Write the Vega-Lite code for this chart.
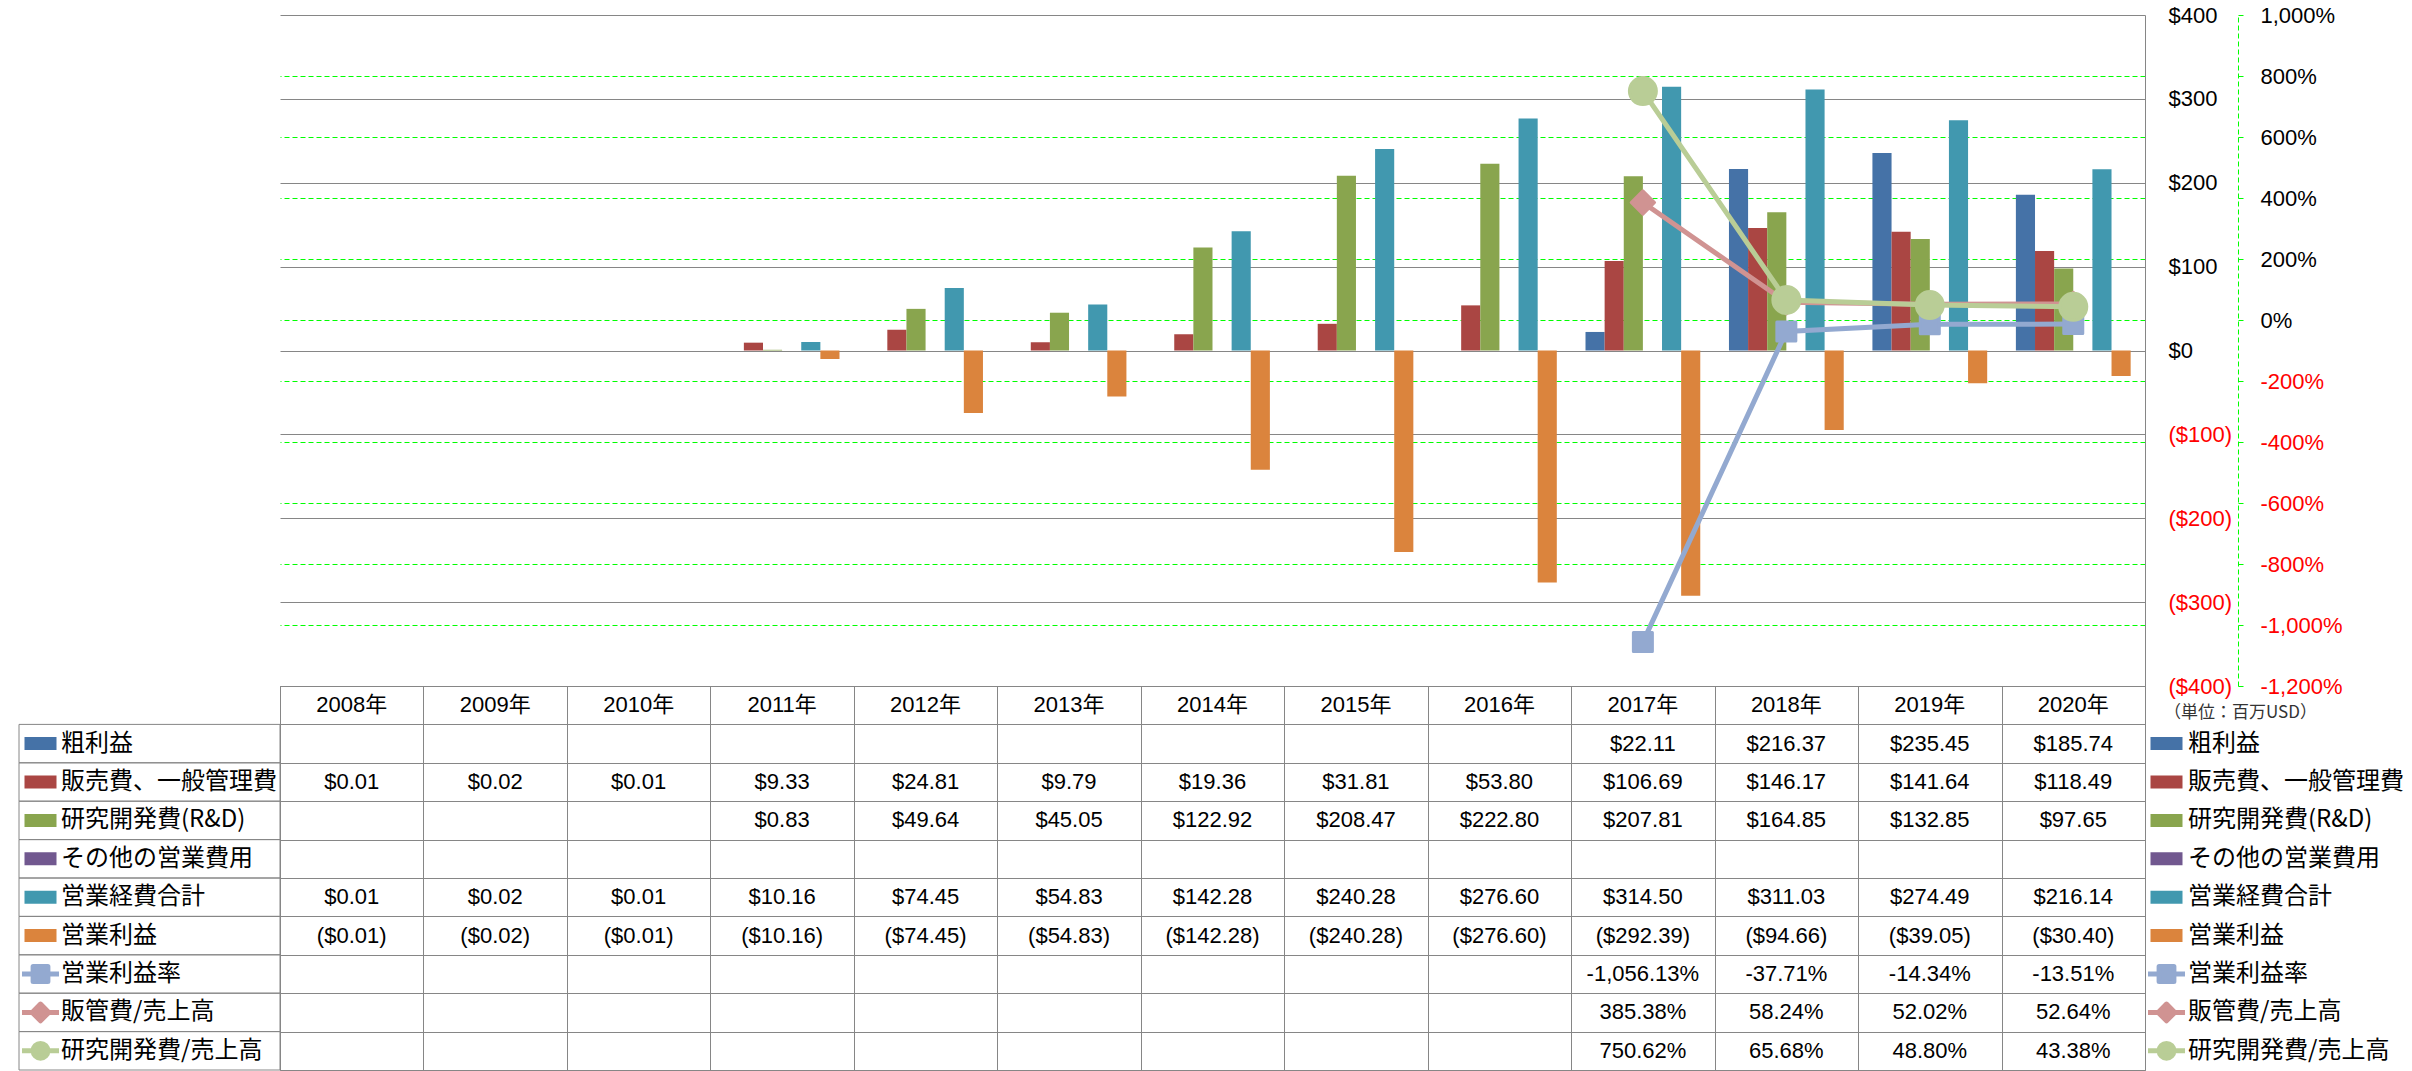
{
  "$schema": "https://vega.github.io/schema/vega-lite/v6.json",
  "background": "white",
  "padding": {"left": 18, "top": 4, "right": 0, "bottom": 0},
  "autosize": {"type": "pad"},
  "columns": 3,
  "spacing": 0,
  "bounds": "flush",
  "config": {
    "view": {"stroke": null},
    "font": "Liberation Sans",
    "locale": {"number": {"decimal": ".", "thousands": ",", "grouping": [3], "currency": ["$", ""], "minus": "-"}},
    "text": {"font": "Liberation Sans, Noto Sans CJK JP", "fontSize": 22, "color": "#000000"},
    "axis": {"labelFont": "Liberation Sans", "labelFontSize": 22}
  },
  "resolve": {"scale": {"color": "independent", "shape": "independent", "size": "independent", "stroke": "independent"}},
  "datasets": {
    "main": [
      {"year": "2017年", "s": "粗利益", "v": 22.11},
      {"year": "2018年", "s": "粗利益", "v": 216.37},
      {"year": "2019年", "s": "粗利益", "v": 235.45},
      {"year": "2020年", "s": "粗利益", "v": 185.74},
      {"year": "2008年", "s": "販売費、一般管理費", "v": 0.01},
      {"year": "2009年", "s": "販売費、一般管理費", "v": 0.02},
      {"year": "2010年", "s": "販売費、一般管理費", "v": 0.01},
      {"year": "2011年", "s": "販売費、一般管理費", "v": 9.33},
      {"year": "2012年", "s": "販売費、一般管理費", "v": 24.81},
      {"year": "2013年", "s": "販売費、一般管理費", "v": 9.79},
      {"year": "2014年", "s": "販売費、一般管理費", "v": 19.36},
      {"year": "2015年", "s": "販売費、一般管理費", "v": 31.81},
      {"year": "2016年", "s": "販売費、一般管理費", "v": 53.80},
      {"year": "2017年", "s": "販売費、一般管理費", "v": 106.69},
      {"year": "2018年", "s": "販売費、一般管理費", "v": 146.17},
      {"year": "2019年", "s": "販売費、一般管理費", "v": 141.64},
      {"year": "2020年", "s": "販売費、一般管理費", "v": 118.49},
      {"year": "2011年", "s": "研究開発費(R&D)", "v": 0.83},
      {"year": "2012年", "s": "研究開発費(R&D)", "v": 49.64},
      {"year": "2013年", "s": "研究開発費(R&D)", "v": 45.05},
      {"year": "2014年", "s": "研究開発費(R&D)", "v": 122.92},
      {"year": "2015年", "s": "研究開発費(R&D)", "v": 208.47},
      {"year": "2016年", "s": "研究開発費(R&D)", "v": 222.80},
      {"year": "2017年", "s": "研究開発費(R&D)", "v": 207.81},
      {"year": "2018年", "s": "研究開発費(R&D)", "v": 164.85},
      {"year": "2019年", "s": "研究開発費(R&D)", "v": 132.85},
      {"year": "2020年", "s": "研究開発費(R&D)", "v": 97.65},
      {"year": "2008年", "s": "営業経費合計", "v": 0.01},
      {"year": "2009年", "s": "営業経費合計", "v": 0.02},
      {"year": "2010年", "s": "営業経費合計", "v": 0.01},
      {"year": "2011年", "s": "営業経費合計", "v": 10.16},
      {"year": "2012年", "s": "営業経費合計", "v": 74.45},
      {"year": "2013年", "s": "営業経費合計", "v": 54.83},
      {"year": "2014年", "s": "営業経費合計", "v": 142.28},
      {"year": "2015年", "s": "営業経費合計", "v": 240.28},
      {"year": "2016年", "s": "営業経費合計", "v": 276.60},
      {"year": "2017年", "s": "営業経費合計", "v": 314.50},
      {"year": "2018年", "s": "営業経費合計", "v": 311.03},
      {"year": "2019年", "s": "営業経費合計", "v": 274.49},
      {"year": "2020年", "s": "営業経費合計", "v": 216.14},
      {"year": "2008年", "s": "営業利益", "v": -0.01},
      {"year": "2009年", "s": "営業利益", "v": -0.02},
      {"year": "2010年", "s": "営業利益", "v": -0.01},
      {"year": "2011年", "s": "営業利益", "v": -10.16},
      {"year": "2012年", "s": "営業利益", "v": -74.45},
      {"year": "2013年", "s": "営業利益", "v": -54.83},
      {"year": "2014年", "s": "営業利益", "v": -142.28},
      {"year": "2015年", "s": "営業利益", "v": -240.28},
      {"year": "2016年", "s": "営業利益", "v": -276.60},
      {"year": "2017年", "s": "営業利益", "v": -292.39},
      {"year": "2018年", "s": "営業利益", "v": -94.66},
      {"year": "2019年", "s": "営業利益", "v": -39.05},
      {"year": "2020年", "s": "営業利益", "v": -30.40},
      {"year": "2017年", "s": "営業利益率", "v": -10.5613},
      {"year": "2018年", "s": "営業利益率", "v": -0.3771},
      {"year": "2019年", "s": "営業利益率", "v": -0.1434},
      {"year": "2020年", "s": "営業利益率", "v": -0.1351},
      {"year": "2017年", "s": "販管費/売上高", "v": 3.8538},
      {"year": "2018年", "s": "販管費/売上高", "v": 0.5824},
      {"year": "2019年", "s": "販管費/売上高", "v": 0.5202},
      {"year": "2020年", "s": "販管費/売上高", "v": 0.5264},
      {"year": "2017年", "s": "研究開発費/売上高", "v": 7.5062},
      {"year": "2018年", "s": "研究開発費/売上高", "v": 0.6568},
      {"year": "2019年", "s": "研究開発費/売上高", "v": 0.4880},
      {"year": "2020年", "s": "研究開発費/売上高", "v": 0.4338}
    ],
    "series": [
      {"s": "粗利益", "k": "bar"},
      {"s": "販売費、一般管理費", "k": "bar"},
      {"s": "研究開発費(R&D)", "k": "bar"},
      {"s": "その他の営業費用", "k": "bar"},
      {"s": "営業経費合計", "k": "bar"},
      {"s": "営業利益", "k": "bar"},
      {"s": "営業利益率", "k": "line"},
      {"s": "販管費/売上高", "k": "line"},
      {"s": "研究開発費/売上高", "k": "line"}
    ]
  },
  "concat": [
    {"width": 261, "height": 671, "data": {"values": []}, "mark": "text"},
    {
      "width": 1865,
      "height": 671,
      "data": {"name": "main"},
      "layer": [
        {
          "transform": [{"filter": {"field": "s", "oneOf": ["粗利益", "販売費、一般管理費", "研究開発費(R&D)", "その他の営業費用", "営業経費合計", "営業利益"]}}],
          "mark": {"type": "bar"},
          "encoding": {
            "x": {"field": "year", "type": "nominal", "scale": {"domain": ["2008年","2009年","2010年","2011年","2012年","2013年","2014年","2015年","2016年","2017年","2018年","2019年","2020年"], "paddingInner": 0, "paddingOuter": 0}, "axis": null},
            "xOffset": {"field": "s", "type": "nominal", "scale": {"domain": ["粗利益", "販売費、一般管理費", "研究開発費(R&D)", "その他の営業費用", "営業経費合計", "営業利益"], "paddingInner": 0, "paddingOuter": 0.75}},
            "y": {
              "field": "v", "type": "quantitative",
              "scale": {"domain": [-400, 400], "nice": false},
              "axis": {
                "orient": "right", "title": null,
                "values": [-400, -300, -200, -100, 0, 100, 200, 300, 400],
                "format": "($,.0f",
                "grid": true, "gridColor": "#868686", "gridWidth": 1,
                "domain": true, "domainColor": "#868686",
                "ticks": false, "labelPadding": 23,
                "labelFontSize": 22,
                "labelColor": {"condition": {"test": "datum.value < 0", "value": "#FF0000"}, "value": "#000000"}
              }
            },
            "color": {"field": "s", "type": "nominal", "legend": null,
              "scale": {"domain": ["粗利益", "販売費、一般管理費", "研究開発費(R&D)", "その他の営業費用", "営業経費合計", "営業利益", "営業利益率", "販管費/売上高", "研究開発費/売上高"],
                        "range": ["#4572A7", "#AA4643", "#89A54E", "#71588F", "#4198AF", "#DB843D", "#93A9D0", "#D09392", "#B9CD96"]}}
          }
        },
        {
          "transform": [{"filter": {"field": "s", "oneOf": ["営業利益率", "販管費/売上高", "研究開発費/売上高"]}}],
          "encoding": {
            "x": {"field": "year", "type": "nominal", "axis": null},
            "y": {
              "field": "v", "type": "quantitative",
              "scale": {"domain": [-12, 10], "nice": false},
              "axis": {
                "orient": "right", "title": null, "offset": 93,
                "values": [-12, -10, -8, -6, -4, -2, 0, 2, 4, 6, 8, 10],
                "format": ",.0%",
                "grid": true, "gridColor": "#00FF00", "gridDash": [5, 3], "gridWidth": 1,
                "gridOpacity": {"condition": {"test": "datum.value >= 10 || datum.value <= -12", "value": 0}, "value": 1},
                "domain": true, "domainColor": "#00FF00", "domainDash": [5, 3],
                "ticks": true, "tickColor": "#00FF00", "tickSize": 5,
                "labelPadding": 17, "labelFontSize": 22,
                "labelColor": {"condition": {"test": "datum.value < 0", "value": "#FF0000"}, "value": "#000000"}
              }
            },
            "color": {"field": "s", "type": "nominal", "legend": null,
              "scale": {"domain": ["粗利益", "販売費、一般管理費", "研究開発費(R&D)", "その他の営業費用", "営業経費合計", "営業利益", "営業利益率", "販管費/売上高", "研究開発費/売上高"],
                        "range": ["#4572A7", "#AA4643", "#89A54E", "#71588F", "#4198AF", "#DB843D", "#93A9D0", "#D09392", "#B9CD96"]}}
          },
          "layer": [
            {"mark": {"type": "line", "strokeWidth": 5}},
            {
              "mark": {"type": "point", "filled": true, "opacity": 1, "strokeWidth": 3, "strokeJoin": "round"},
              "encoding": {
                "shape": {"field": "s", "type": "nominal", "legend": null, "scale": {"domain": ["営業利益率", "販管費/売上高", "研究開発費/売上高"], "range": ["square", "diamond", "circle"]}},
                "size": {"field": "s", "type": "ordinal", "legend": null, "scale": {"domain": ["営業利益率", "販管費/売上高", "研究開発費/売上高"], "range": [361, 729, 400]}},
                "stroke": {"field": "s", "type": "nominal", "legend": null, "scale": {"domain": ["営業利益率", "販管費/売上高", "研究開発費/売上高"], "range": ["#93A9D0", "#D09392", "#B9CD96"]}}
              }
            }
          ]
        }
      ],
      "resolve": {"scale": {"y": "independent"}}
    },
    {"width": 266, "height": 671, "data": {"values": []}, "mark": "text"},
    {
      "width": 261,
      "height": 384,
      "data": {"name": "series"},
      "encoding": {
        "y": {"field": "s", "type": "nominal", "axis": null,
          "scale": {"domain": ["hdr", "粗利益", "販売費、一般管理費", "研究開発費(R&D)", "その他の営業費用", "営業経費合計", "営業利益", "営業利益率", "販管費/売上高", "研究開発費/売上高"], "paddingInner": 0, "paddingOuter": 0}}
      },
      "layer": [
        {"mark": {"type": "rect", "fill": "#ffffff", "fillOpacity": 0, "stroke": "#868686", "strokeWidth": 1}},
        {
          "transform": [{"filter": "datum.k === 'bar'"}],
          "mark": {"type": "point", "filled": true, "opacity": 1, "size": 1369, "strokeWidth": 0},
          "encoding": {
            "x": {"datum": "sw", "type": "nominal", "axis": null, "scale": {"type": "point", "domain": ["sw", "tx"], "range": [21.5, 42], "padding": 0}},
            "shape": {"field": "s", "type": "nominal", "legend": null,
              "scale": {"domain": ["粗利益", "販売費、一般管理費", "研究開発費(R&D)", "その他の営業費用", "営業経費合計", "営業利益", "営業利益率", "販管費/売上高", "研究開発費/売上高"],
                "range": ["M-0.865,-0.35L0.865,-0.35L0.865,0.35L-0.865,0.35Z", "M-0.865,-0.35L0.865,-0.35L0.865,0.35L-0.865,0.35Z", "M-0.865,-0.35L0.865,-0.35L0.865,0.35L-0.865,0.35Z", "M-0.865,-0.35L0.865,-0.35L0.865,0.35L-0.865,0.35Z", "M-0.865,-0.35L0.865,-0.35L0.865,0.35L-0.865,0.35Z", "M-0.865,-0.35L0.865,-0.35L0.865,0.35L-0.865,0.35Z", "M-1,0L1,0M-0.4,-0.4L0.4,-0.4L0.4,0.4L-0.4,0.4Z", "M-1,0L1,0M0,-0.45L0.45,0L0,0.45L-0.45,0Z", "M-1,0L1,0M-0.4,0A0.4,0.4,0,1,0,0.4,0A0.4,0.4,0,1,0,-0.4,0Z"]}},
            "color": {"field": "s", "type": "nominal", "legend": null,
              "scale": {"domain": ["粗利益", "販売費、一般管理費", "研究開発費(R&D)", "その他の営業費用", "営業経費合計", "営業利益", "営業利益率", "販管費/売上高", "研究開発費/売上高"],
                        "range": ["#4572A7", "#AA4643", "#89A54E", "#71588F", "#4198AF", "#DB843D", "#93A9D0", "#D09392", "#B9CD96"]}}
          }
        },
        {
          "transform": [{"filter": "datum.k === 'line'"}],
          "mark": {"type": "point", "filled": true, "opacity": 1, "size": 1369, "strokeWidth": 5, "strokeJoin": "round"},
          "encoding": {
            "x": {"datum": "sw", "type": "nominal", "axis": null, "scale": {"type": "point", "domain": ["sw", "tx"], "range": [21.5, 42], "padding": 0}},
            "shape": {"field": "s", "type": "nominal", "legend": null,
              "scale": {"domain": ["粗利益", "販売費、一般管理費", "研究開発費(R&D)", "その他の営業費用", "営業経費合計", "営業利益", "営業利益率", "販管費/売上高", "研究開発費/売上高"],
                "range": ["M-0.865,-0.35L0.865,-0.35L0.865,0.35L-0.865,0.35Z", "M-0.865,-0.35L0.865,-0.35L0.865,0.35L-0.865,0.35Z", "M-0.865,-0.35L0.865,-0.35L0.865,0.35L-0.865,0.35Z", "M-0.865,-0.35L0.865,-0.35L0.865,0.35L-0.865,0.35Z", "M-0.865,-0.35L0.865,-0.35L0.865,0.35L-0.865,0.35Z", "M-0.865,-0.35L0.865,-0.35L0.865,0.35L-0.865,0.35Z", "M-1,0L1,0M-0.4,-0.4L0.4,-0.4L0.4,0.4L-0.4,0.4Z", "M-1,0L1,0M0,-0.45L0.45,0L0,0.45L-0.45,0Z", "M-1,0L1,0M-0.4,0A0.4,0.4,0,1,0,0.4,0A0.4,0.4,0,1,0,-0.4,0Z"]}},
            "color": {"field": "s", "type": "nominal", "legend": null,
              "scale": {"domain": ["粗利益", "販売費、一般管理費", "研究開発費(R&D)", "その他の営業費用", "営業経費合計", "営業利益", "営業利益率", "販管費/売上高", "研究開発費/売上高"],
                        "range": ["#4572A7", "#AA4643", "#89A54E", "#71588F", "#4198AF", "#DB843D", "#93A9D0", "#D09392", "#B9CD96"]}},
            "stroke": {"field": "s", "type": "nominal", "legend": null,
              "scale": {"domain": ["粗利益", "販売費、一般管理費", "研究開発費(R&D)", "その他の営業費用", "営業経費合計", "営業利益", "営業利益率", "販管費/売上高", "研究開発費/売上高"],
                        "range": ["#4572A7", "#AA4643", "#89A54E", "#71588F", "#4198AF", "#DB843D", "#93A9D0", "#D09392", "#B9CD96"]}}
          }
        },
        {
          "mark": {"type": "text", "align": "left", "baseline": "middle", "fontSize": 24, "font": "Noto Sans CJK JP"},
          "encoding": {
            "x": {"datum": "tx", "type": "nominal", "axis": null, "scale": {"type": "point", "domain": ["sw", "tx"], "range": [21.5, 42], "padding": 0}},
            "text": {"field": "s"}
          }
        }
      ],
      "resolve": {"scale": {"x": "independent"}}
    },
    {
      "width": 1865,
      "height": 384,
      "view": {"stroke": "#868686"},
      "data": {"name": "main"},
      "encoding": {
        "x": {"field": "year", "type": "nominal",
          "scale": {"domain": ["2008年","2009年","2010年","2011年","2012年","2013年","2014年","2015年","2016年","2017年","2018年","2019年","2020年"], "paddingInner": 0, "paddingOuter": 0},
          "axis": {"grid": true, "tickBand": "extent", "labels": false, "ticks": false, "domain": false, "gridColor": "#868686", "title": null}},
        "y": {"field": "s", "type": "nominal",
          "scale": {"domain": ["hdr", "粗利益", "販売費、一般管理費", "研究開発費(R&D)", "その他の営業費用", "営業経費合計", "営業利益", "営業利益率", "販管費/売上高", "研究開発費/売上高"], "paddingInner": 0, "paddingOuter": 0},
          "axis": {"grid": true, "tickBand": "extent", "labels": false, "ticks": false, "domain": false, "gridColor": "#868686", "title": null}}
      },
      "layer": [
        {
          "transform": [{"filter": "datum.s === '営業利益'"}],
          "mark": {"type": "text", "fontSize": 22},
          "encoding": {"y": {"datum": "hdr", "type": "nominal"}, "text": {"field": "year"}}
        },
        {
          "transform": [{"filter": {"field": "s", "oneOf": ["粗利益", "販売費、一般管理費", "研究開発費(R&D)", "その他の営業費用", "営業経費合計", "営業利益"]}}],
          "mark": {"type": "text", "fontSize": 22},
          "encoding": {"text": {"field": "v", "type": "quantitative", "format": "($,.2f"}}
        },
        {
          "transform": [{"filter": {"field": "s", "oneOf": ["営業利益率", "販管費/売上高", "研究開発費/売上高"]}}],
          "mark": {"type": "text", "fontSize": 22},
          "encoding": {"text": {"field": "v", "type": "quantitative", "format": ",.2%"}}
        }
      ]
    },
    {
      "width": 266,
      "height": 384,
      "data": {"name": "series"},
      "encoding": {
        "y": {"field": "s", "type": "nominal", "axis": null,
          "scale": {"domain": ["hdr", "粗利益", "販売費、一般管理費", "研究開発費(R&D)", "その他の営業費用", "営業経費合計", "営業利益", "営業利益率", "販管費/売上高", "研究開発費/売上高"], "paddingInner": 0, "paddingOuter": 0}}
      },
      "layer": [
        {
          "transform": [{"filter": "datum.k === 'bar'"}],
          "mark": {"type": "point", "filled": true, "opacity": 1, "size": 1369, "strokeWidth": 0},
          "encoding": {
            "x": {"datum": "sw", "type": "nominal", "axis": null, "scale": {"type": "point", "domain": ["sw", "tx"], "range": [21.5, 43], "padding": 0}},
            "shape": {"field": "s", "type": "nominal", "legend": null,
              "scale": {"domain": ["粗利益", "販売費、一般管理費", "研究開発費(R&D)", "その他の営業費用", "営業経費合計", "営業利益", "営業利益率", "販管費/売上高", "研究開発費/売上高"],
                "range": ["M-0.865,-0.35L0.865,-0.35L0.865,0.35L-0.865,0.35Z", "M-0.865,-0.35L0.865,-0.35L0.865,0.35L-0.865,0.35Z", "M-0.865,-0.35L0.865,-0.35L0.865,0.35L-0.865,0.35Z", "M-0.865,-0.35L0.865,-0.35L0.865,0.35L-0.865,0.35Z", "M-0.865,-0.35L0.865,-0.35L0.865,0.35L-0.865,0.35Z", "M-0.865,-0.35L0.865,-0.35L0.865,0.35L-0.865,0.35Z", "M-1,0L1,0M-0.4,-0.4L0.4,-0.4L0.4,0.4L-0.4,0.4Z", "M-1,0L1,0M0,-0.45L0.45,0L0,0.45L-0.45,0Z", "M-1,0L1,0M-0.4,0A0.4,0.4,0,1,0,0.4,0A0.4,0.4,0,1,0,-0.4,0Z"]}},
            "color": {"field": "s", "type": "nominal", "legend": null,
              "scale": {"domain": ["粗利益", "販売費、一般管理費", "研究開発費(R&D)", "その他の営業費用", "営業経費合計", "営業利益", "営業利益率", "販管費/売上高", "研究開発費/売上高"],
                        "range": ["#4572A7", "#AA4643", "#89A54E", "#71588F", "#4198AF", "#DB843D", "#93A9D0", "#D09392", "#B9CD96"]}}
          }
        },
        {
          "transform": [{"filter": "datum.k === 'line'"}],
          "mark": {"type": "point", "filled": true, "opacity": 1, "size": 1369, "strokeWidth": 5, "strokeJoin": "round"},
          "encoding": {
            "x": {"datum": "sw", "type": "nominal", "axis": null, "scale": {"type": "point", "domain": ["sw", "tx"], "range": [21.5, 43], "padding": 0}},
            "shape": {"field": "s", "type": "nominal", "legend": null,
              "scale": {"domain": ["粗利益", "販売費、一般管理費", "研究開発費(R&D)", "その他の営業費用", "営業経費合計", "営業利益", "営業利益率", "販管費/売上高", "研究開発費/売上高"],
                "range": ["M-0.865,-0.35L0.865,-0.35L0.865,0.35L-0.865,0.35Z", "M-0.865,-0.35L0.865,-0.35L0.865,0.35L-0.865,0.35Z", "M-0.865,-0.35L0.865,-0.35L0.865,0.35L-0.865,0.35Z", "M-0.865,-0.35L0.865,-0.35L0.865,0.35L-0.865,0.35Z", "M-0.865,-0.35L0.865,-0.35L0.865,0.35L-0.865,0.35Z", "M-0.865,-0.35L0.865,-0.35L0.865,0.35L-0.865,0.35Z", "M-1,0L1,0M-0.4,-0.4L0.4,-0.4L0.4,0.4L-0.4,0.4Z", "M-1,0L1,0M0,-0.45L0.45,0L0,0.45L-0.45,0Z", "M-1,0L1,0M-0.4,0A0.4,0.4,0,1,0,0.4,0A0.4,0.4,0,1,0,-0.4,0Z"]}},
            "color": {"field": "s", "type": "nominal", "legend": null,
              "scale": {"domain": ["粗利益", "販売費、一般管理費", "研究開発費(R&D)", "その他の営業費用", "営業経費合計", "営業利益", "営業利益率", "販管費/売上高", "研究開発費/売上高"],
                        "range": ["#4572A7", "#AA4643", "#89A54E", "#71588F", "#4198AF", "#DB843D", "#93A9D0", "#D09392", "#B9CD96"]}},
            "stroke": {"field": "s", "type": "nominal", "legend": null,
              "scale": {"domain": ["粗利益", "販売費、一般管理費", "研究開発費(R&D)", "その他の営業費用", "営業経費合計", "営業利益", "営業利益率", "販管費/売上高", "研究開発費/売上高"],
                        "range": ["#4572A7", "#AA4643", "#89A54E", "#71588F", "#4198AF", "#DB843D", "#93A9D0", "#D09392", "#B9CD96"]}}
          }
        },
        {
          "mark": {"type": "text", "align": "left", "baseline": "middle", "fontSize": 24, "font": "Noto Sans CJK JP"},
          "encoding": {
            "x": {"datum": "tx", "type": "nominal", "axis": null, "scale": {"type": "point", "domain": ["sw", "tx"], "range": [21.5, 43], "padding": 0}},
            "text": {"field": "s"}
          }
        },
        {
          "data": {"values": [{"u": "（単位：百万USD）"}]},
          "mark": {"type": "text", "align": "left", "baseline": "top", "fontSize": 17, "font": "Noto Sans CJK JP", "color": "#333333"},
          "encoding": {
            "x": {"datum": "sw", "type": "nominal", "axis": null, "scale": {"type": "point", "domain": ["sw", "tx"], "range": [19, 43], "padding": 0}},
            "y": {"datum": "hdr", "type": "nominal"},
            "text": {"field": "u"}
          }
        }
      ],
      "resolve": {"scale": {"x": "independent"}}
    }
  ]
}
